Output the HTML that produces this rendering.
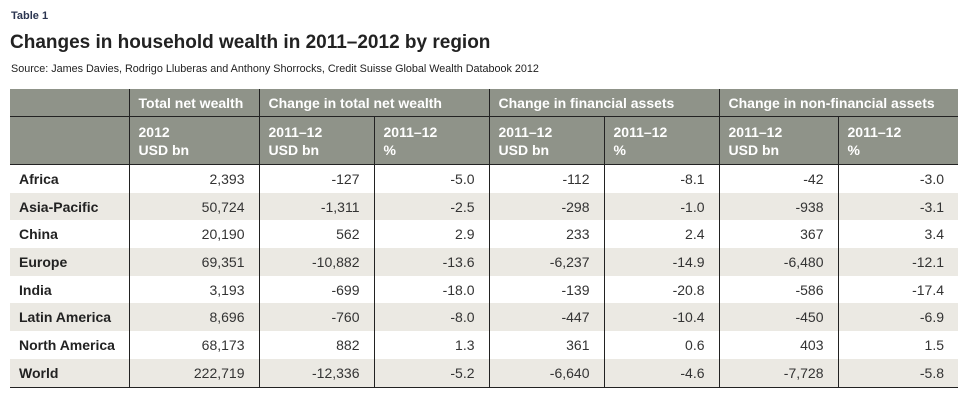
<!DOCTYPE html>
<html><head><meta charset="utf-8"><style>
body{margin:0;width:973px;height:409px;background:#fff;font-family:"Liberation Sans",Arial,sans-serif;position:relative;overflow:hidden;color:#222}
.t1{position:absolute;left:11px;top:10px;font-size:11px;font-weight:bold;color:#2b3550}
.title{position:absolute;left:10px;top:32px;font-size:19px;font-weight:bold;color:#222}
.src{position:absolute;left:11px;top:63px;font-size:10.8px;color:#222}
table{position:absolute;left:10px;top:89px;border-collapse:collapse;width:948px;table-layout:fixed;font-size:14px}
td,th{padding:0 9px;border-left:1px solid #222;white-space:nowrap}
td:first-child,th:first-child{border-left:none}
th{background:#8f9389;color:#fff;text-align:left;font-weight:bold;font-size:14px}
tr.h1 th{height:27px;border-bottom:1px solid #222}
tr.h2 th{height:41px;vertical-align:top;padding-top:6px;line-height:18px}
tr.h2{border-bottom:1.5px solid #222}
td{height:27.7px;text-align:right;padding-right:14px;color:#333}
td:first-child{text-align:left;font-weight:bold;padding-left:9px;padding-right:0;color:#222;overflow:visible}
tr.alt td{background:#ebe9e3}
tbody tr:last-child{border-bottom:1.5px solid #222}
</style></head><body>
<div class="t1">Table 1</div>
<div class="title">Changes in household wealth in 2011–2012 by region</div>
<div class="src">Source: James Davies, Rodrigo Lluberas and Anthony Shorrocks, Credit Suisse Global Wealth Databook 2012</div>
<table>
<colgroup><col style="width:119px"><col style="width:130px"><col style="width:115px"><col style="width:115px"><col style="width:115px"><col style="width:115px"><col style="width:119px"><col style="width:120px"></colgroup>
<thead>
<tr class="h1"><th></th><th>Total net wealth</th><th colspan="2">Change in total net wealth</th><th colspan="2">Change in financial assets</th><th colspan="2">Change in non-financial assets</th></tr>
<tr class="h2"><th></th><th>2012<br>USD bn</th><th>2011–12<br>USD bn</th><th>2011–12<br>%</th><th>2011–12<br>USD bn</th><th>2011–12<br>%</th><th>2011–12<br>USD bn</th><th>2011–12<br>%</th></tr>
</thead>
<tbody>
<tr><td>Africa</td><td>2,393</td><td>-127</td><td>-5.0</td><td>-112</td><td>-8.1</td><td>-42</td><td>-3.0</td></tr>
<tr class="alt"><td>Asia-Pacific</td><td>50,724</td><td>-1,311</td><td>-2.5</td><td>-298</td><td>-1.0</td><td>-938</td><td>-3.1</td></tr>
<tr><td>China</td><td>20,190</td><td>562</td><td>2.9</td><td>233</td><td>2.4</td><td>367</td><td>3.4</td></tr>
<tr class="alt"><td>Europe</td><td>69,351</td><td>-10,882</td><td>-13.6</td><td>-6,237</td><td>-14.9</td><td>-6,480</td><td>-12.1</td></tr>
<tr><td>India</td><td>3,193</td><td>-699</td><td>-18.0</td><td>-139</td><td>-20.8</td><td>-586</td><td>-17.4</td></tr>
<tr class="alt"><td>Latin America</td><td>8,696</td><td>-760</td><td>-8.0</td><td>-447</td><td>-10.4</td><td>-450</td><td>-6.9</td></tr>
<tr><td>North America</td><td>68,173</td><td>882</td><td>1.3</td><td>361</td><td>0.6</td><td>403</td><td>1.5</td></tr>
<tr class="alt"><td>World</td><td>222,719</td><td>-12,336</td><td>-5.2</td><td>-6,640</td><td>-4.6</td><td>-7,728</td><td>-5.8</td></tr>
</tbody>
</table>
</body></html>
